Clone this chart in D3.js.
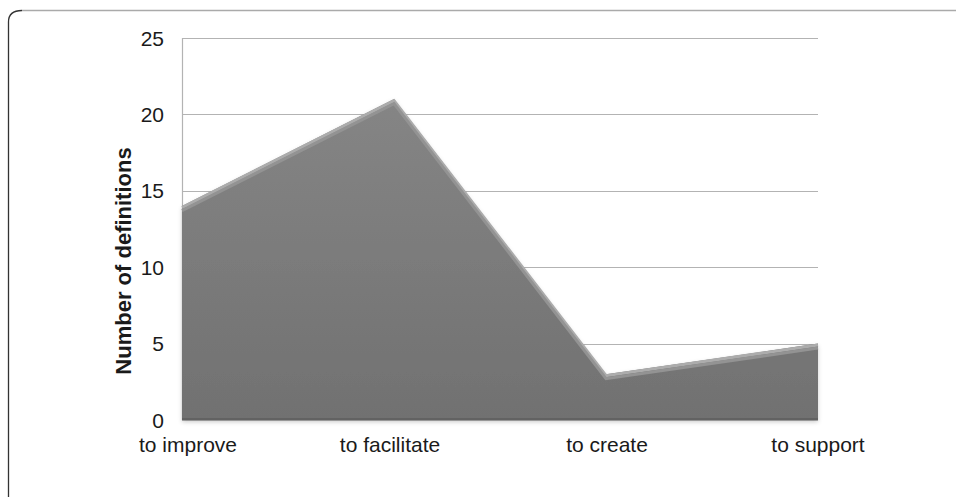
<!DOCTYPE html>
<html>
<head>
<meta charset="utf-8">
<script src="https://cdn.jsdelivr.net/npm/d3@7"></script>
<style>
  body { margin: 0; background: #fff; }
  svg text { font-family: "Liberation Sans", Arial, sans-serif; fill: #1a1a1a; }
</style>
</head>
<body>
<div id="chart"></div>
<script>
const categories = ["to improve", "to facilitate", "to create", "to support"]
const values = [14, 21, 3, 5]
const yTicks = [0, 5, 10, 15, 20, 25]
const yTitle = "Number of definitions"

const width = 956
const height = 502
const margin = { top: 38, right: 138, bottom: 82, left: 182 }

const svg = d3.select("#chart")
  .append("svg")
  .attr("width", width)
  .attr("height", height)

// frame: dark rounded left edge, light top edge
svg.append("path")
  .attr("d", "M8.5,497 L8.5,22 Q8.5,10.5 22,10.5")
  .attr("fill", "none")
  .attr("stroke", "#333")
  .attr("stroke-width", 1.3)
svg.append("line")
  .attr("x1", 22).attr("x2", width)
  .attr("y1", 10.5).attr("y2", 10.5)
  .attr("stroke", "#aaa")
  .attr("stroke-width", 1.3)

const x = d3.scalePoint()
  .domain(categories)
  .range([margin.left, width - margin.right])

const y = d3.scaleLinear()
  .domain([0, 25])
  .range([height - margin.bottom, margin.top])

const defs = svg.append("defs")
const grad = defs.append("linearGradient")
  .attr("id", "areaFill")
  .attr("x1", 0).attr("y1", 0).attr("x2", 0).attr("y2", 1)
grad.append("stop").attr("offset", "0%").attr("stop-color", "#858585")
grad.append("stop").attr("offset", "100%").attr("stop-color", "#717171")

const shadow = defs.append("filter").attr("id", "shadow")
  .attr("x", "-5%").attr("y", "-5%").attr("width", "110%").attr("height", "115%")
shadow.append("feDropShadow")
  .attr("dx", 0).attr("dy", 2).attr("stdDeviation", 2)
  .attr("flood-color", "#000").attr("flood-opacity", 0.2)

// gridlines
svg.append("g")
  .selectAll("line")
  .data(yTicks)
  .join("line")
  .attr("x1", margin.left)
  .attr("x2", width - margin.right)
  .attr("y1", d => Math.round(y(d)) + 0.5)
  .attr("y2", d => Math.round(y(d)) + 0.5)
  .attr("stroke", "#b3b3b3")
  .attr("stroke-width", 1.2)

// vertical axis line
svg.append("line")
  .attr("x1", margin.left + 0.5).attr("x2", margin.left + 0.5)
  .attr("y1", y(25)).attr("y2", y(0))
  .attr("stroke", "#b3b3b3")
  .attr("stroke-width", 1.2)

const data = categories.map((c, i) => ({ c, v: values[i] }))

const area = d3.area()
  .x(d => x(d.c))
  .y0(y(0))
  .y1(d => y(d.v))

svg.append("path")
  .datum(data)
  .attr("d", area)
  .attr("fill", "url(#areaFill)")
  .attr("filter", "url(#shadow)")

// bevel highlight along top edge
svg.append("path")
  .datum(data)
  .attr("d", d3.line().x(d => x(d.c)).y(d => y(d.v) + 1.5))
  .attr("fill", "none")
  .attr("stroke", "#acacac")
  .attr("stroke-width", 3)
svg.append("path")
  .datum(data)
  .attr("d", d3.line().x(d => x(d.c)).y(d => y(d.v) + 4.5))
  .attr("fill", "none")
  .attr("stroke", "#939393")
  .attr("stroke-width", 3)

// dark bottom edge
svg.append("line")
  .attr("x1", x(categories[0])).attr("x2", x(categories[categories.length - 1]))
  .attr("y1", y(0) - 1).attr("y2", y(0) - 1)
  .attr("stroke", "#626262")
  .attr("stroke-width", 2)

// y tick labels
svg.append("g")
  .selectAll("text")
  .data(yTicks)
  .join("text")
  .attr("x", margin.left - 18)
  .attr("y", d => y(d))
  .attr("dy", "0.36em")
  .attr("text-anchor", "end")
  .style("font-size", "21px")
  .text(d => d)

// x labels
const labelShift = [6, -4, 1, 0]
svg.append("g")
  .selectAll("text")
  .data(categories)
  .join("text")
  .attr("x", (d, i) => x(d) + labelShift[i])
  .attr("y", y(0) + 32)
  .attr("text-anchor", "middle")
  .style("font-size", "21px")
  .text(d => d)

// y title
svg.append("text")
  .attr("transform", `translate(131, ${(y(0) + y(25)) / 2 + 32}) rotate(-90)`)
  .attr("text-anchor", "middle")
  .style("font-size", "22px")
  .style("font-weight", "bold")
  .text(yTitle)
</script>
</body>
</html>
